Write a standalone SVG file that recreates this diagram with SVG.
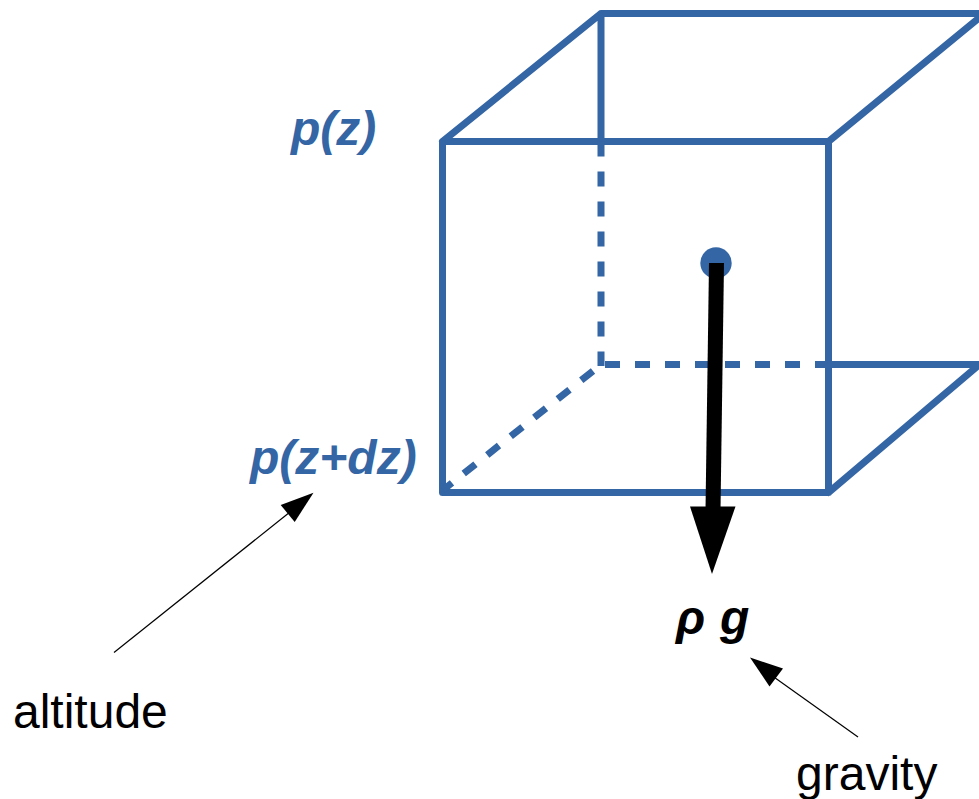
<svg xmlns="http://www.w3.org/2000/svg" width="979" height="799" viewBox="0 0 979 799">
<style>
.e{stroke:#3465a4;stroke-width:7;fill:none;stroke-linecap:round;stroke-linejoin:round}
.d{stroke:#3465a4;stroke-width:7;fill:none;stroke-dasharray:15 15}
.b{font-family:"Liberation Sans",Arial,sans-serif;font-weight:bold;font-style:italic;font-size:48px;fill:#3465a4}
.k{font-family:"Liberation Sans",Arial,sans-serif;font-weight:bold;font-style:italic;font-size:48px;fill:#000}
.t{font-family:"Liberation Sans",Arial,sans-serif;font-size:48px;fill:#000}
.a{stroke:#000;stroke-width:1.2;fill:none}
</style>
<rect width="979" height="799" fill="#fff"/>
<g id="cube">
<path class="e" d="M442.500 141.500H828.500V492.500H442.500ZM442.500 141.500L601 13.500H979M828.500 141.500L979 18M828.500 492.500L979 365M828.500 364.500H979M601 13.500V141.500"/>
<path class="d" d="M601 141.500V366"/>
<path class="d" d="M605 364.500H829"/>
<path class="d" d="M593 371L443 490"/>
<circle cx="716" cy="263" r="15.700" fill="#3465a4"/>
</g>
<g id="connectors">
<path d="M716.500 263L713 510" stroke="#000" stroke-width="15" fill="none"/>
<polygon points="690,506.500 735.500,506.500 712,574" fill="#000"/>
<path class="a" d="M114 652.500L290 512"/>
<polygon points="313.500,492.700 280.700,505 294.700,522" fill="#000"/>
<path class="a" d="M858 737L771 675"/>
<polygon points="750,657.500 783,668.500 769.500,686.500" fill="#000"/>
</g>
<g id="labels">
<text class="b" x="291" y="144.500">p(z)</text>
<text class="b" x="250" y="474">p(z+dz)</text>
<text class="k" x="676" y="634">ρ</text>
<text class="k" x="720" y="634">g</text>
<text class="t" x="13" y="728">altitude</text>
<text class="t" x="796" y="789.500">gravity</text>
</g>
</svg>
